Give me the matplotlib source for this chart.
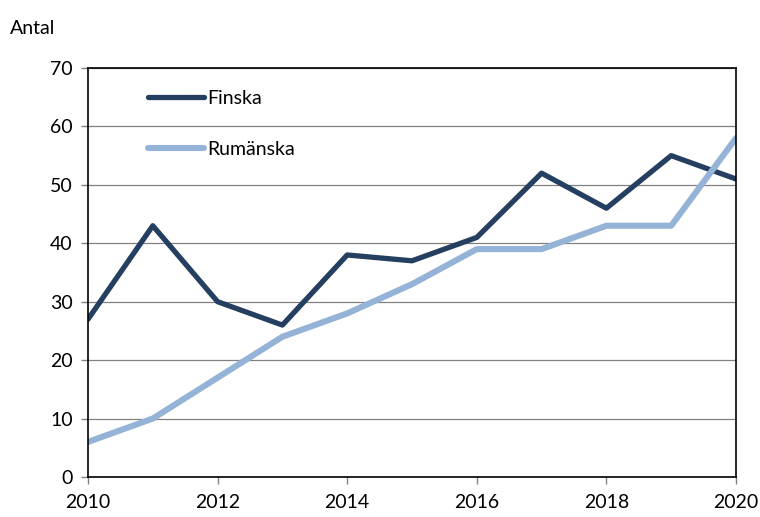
import matplotlib
matplotlib.use("Agg")
import matplotlib.pyplot as plt

plt.rcParams['font.family'] = ['Lato', 'DejaVu Sans']

years = [2010, 2011, 2012, 2013, 2014, 2015, 2016, 2017, 2018, 2019, 2020]
finska = [27, 43, 30, 26, 38, 37, 41, 52, 46, 55, 51]
rumanska = [6, 10, 17, 24, 28, 33, 39, 39, 43, 43, 58]
yticks = [0, 10, 20, 30, 40, 50, 60, 70]
xticks = [2010, 2012, 2014, 2016, 2018, 2020]

fig = plt.figure(figsize=(7.6, 5.17), dpi=100)
ax = fig.add_axes([0.1158, 0.0774, 0.8526, 0.7911])

ax.plot(years, finska, color='#243F60', lw=3.8, label='Finska', solid_capstyle='round')
ax.plot(years, rumanska, color='#95B3D7', lw=4.4, label='Rumänska', solid_capstyle='round')

ax.set_xlim(2010, 2020)
ax.set_ylim(0, 70)
ax.set_yticks(yticks)
ax.set_xticks(xticks)
ax.grid(axis='y', color='#808080', lw=0.9)
ax.set_axisbelow(True)
for s in ax.spines.values():
    s.set_color('black')
    s.set_linewidth(1.2)
ax.tick_params(axis='both', labelsize=14, length=5, width=1, color='#808080')
ax.tick_params(axis='x', pad=7)
ax.tick_params(axis='y', pad=6)

fig.text(0.013, 0.945, 'Antal', fontsize=14, ha='left', va='center')

leg = ax.legend(loc='upper left', bbox_to_anchor=(0.065, 0.99), frameon=False,
                fontsize=14, handlelength=2.9, handletextpad=0.15, labelspacing=1.75)

fig.savefig('out.png', dpi=100)
